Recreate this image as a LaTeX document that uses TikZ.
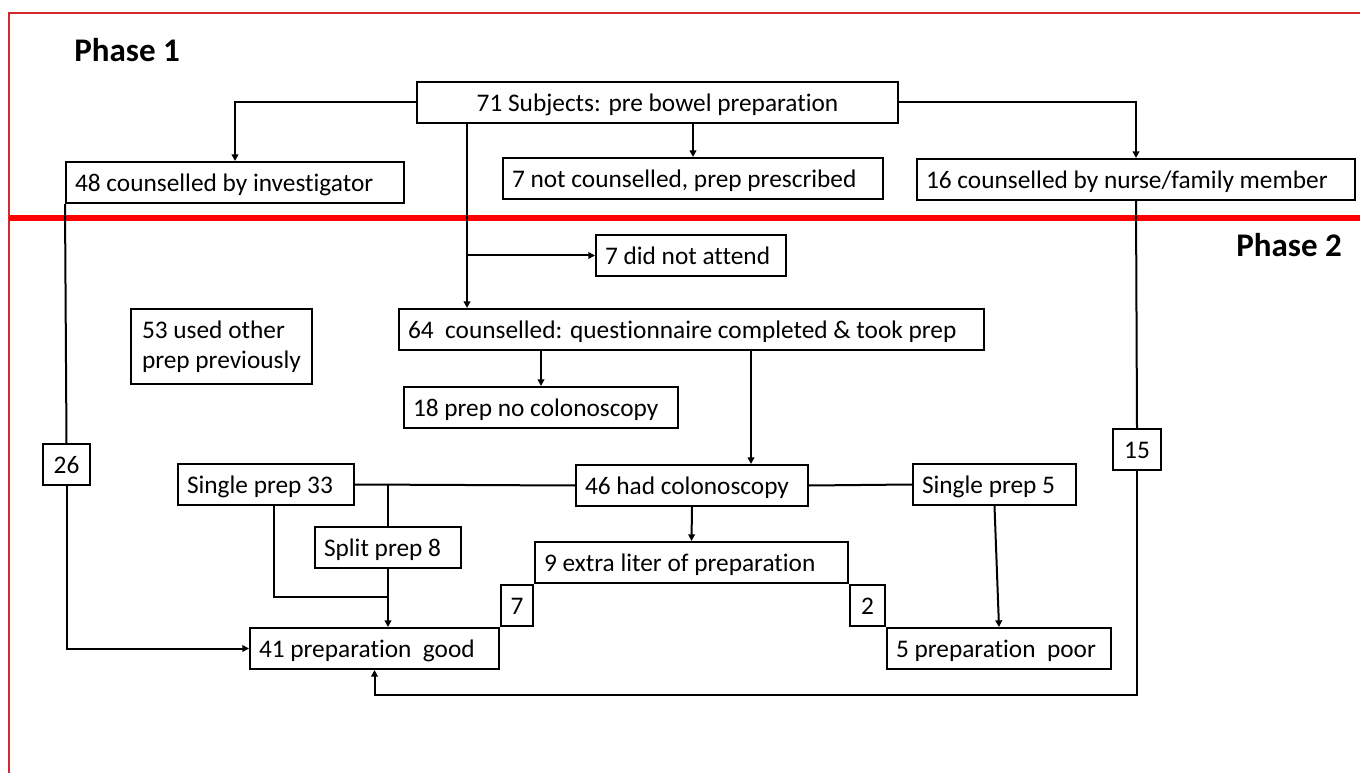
\documentclass[tikz,border=0pt]{standalone}
\usepackage{fontspec}
\setmainfont[RawFeature={-liga;-clig;-calt}]{Carlito}
\usetikzlibrary{arrows.meta, positioning, calc}
\definecolor{framered}{RGB}{210,40,50}
\tikzstyle{arrow} = [line width=1.5pt, -{Triangle[length=5pt, width=5pt]}]
\tikzstyle{link} = [line width=1.5pt]

\begin{document}
\begin{tikzpicture}[x=0.75pt, y=-0.75pt,
    every node/.style={font=\fontsize{19}{22.5}\selectfont},
    stage/.style={rectangle, draw, line width=1.5pt, anchor=north west, align=flush left, inner xsep=6.75pt, inner ysep=0pt, minimum height=30.75pt, text height=17pt, text depth=3.5pt},
    note/.style={rectangle, draw, line width=1.5pt, anchor=north west, align=flush left, inner xsep=8.25pt, minimum height=56.25pt},
    count/.style={rectangle, draw, line width=1.5pt, align=center, inner sep=2pt, minimum height=30.75pt, text height=17pt, text depth=3.5pt},
    phase/.style={font=\fontsize{24.75}{30}\selectfont\bfseries, anchor=base west, inner sep=0pt}
  ]
    \useasboundingbox (0,0) rectangle (1360,773);

    % Frame and phase divider
    \draw[framered, line width=1.1pt] (9,773) -- (9,13) -- (1360,13);
    \draw[red, line width=4.5pt] (9,218) -- (1360,218);
    \node[phase] (ph1) at (74,62) {Phase 1};
    \node[phase] (ph2) at (1236,257) {Phase 2};

    % Phase 1 nodes
    \node[count, anchor=north west, minimum width=360.75pt] (subj) at (416,81) {71 Subjects: pre bowel preparation};
    \node[stage, text width=240pt]   (inv)    at (65,161)  {48 counselled by investigator};
    \node[stage, text width=271.5pt] (nocoun) at (502,157) {7 not counselled, prep prescribed};
    \node[stage, text width=315pt]   (nurse)  at (916,158) {16 counselled by nurse/family member};

    % Phase 2 nodes
    \node[stage, text width=129pt]    (absent)  at (595,234) {7 did not attend};
    \node[stage, text width=425.25pt] (quest)   at (398,308) {64\ \ counselled: questionnaire completed \& took prep};
    \node[note]                       (other)   at (130,308) {53 used other\\prep previously};
    \node[stage, text width=192pt]    (noscope) at (403,386) {18 prep no colonoscopy};
    \node[count, anchor=north west, minimum width=35.25pt] (n26) at (42,443) {26};
    \node[count, anchor=north west, minimum width=36pt]    (n15) at (1112,428) {15};
    \node[stage, text width=160.5pt]  (scope)    at (575,464) {46 had colonoscopy};
    \node[stage, text width=118.5pt]  (single33) at (177,463) {Single prep 33};
    \node[stage, text width=108.75pt] (single5)  at (912,463) {Single prep 5};
    \node[stage, text width=96pt]     (split8)   at (314,526) {Split prep 8};
    \node[stage, text width=221.25pt] (extra)    at (534,541) {9 extra liter of preparation};
    \node[count, anchor=north east, minimum width=24pt]    (n7) at (extra.south west) {7};
    \node[count, anchor=north west, minimum width=26.25pt] (n2) at (extra.south east) {2};
    \node[stage, anchor=north east, text width=173.25pt] (good) at (n7.south west) {41 preparation\ \ good};
    \node[stage, text width=154.5pt] (poor) at (n2.south east) {5 preparation\ \ poor};

    % Phase 1 arrows
    \draw[arrow] (subj.west) -| (inv.north);
    \draw[arrow] (subj.east) -| (nurse.north);
    \draw[arrow] (nocoun.north |- subj.south) -- (nocoun.north);

    % Counselled branch
    \coordinate (tap) at ($(subj.south west)+(51,0)$);
    \draw[arrow] (tap) -- (tap |- quest.north);
    \draw[arrow] (tap |- absent.west) -- (absent.west);
    \draw[arrow] (noscope.north |- quest.south) -- (noscope.north);
    \coordinate (drop) at ($(quest.south west)+(353,0)$);
    \draw[arrow] (drop) -- (drop |- scope.north);

    % Colonoscopy split
    \draw[link] (single33.east) -- (scope.west);
    \draw[link] (scope.east) -- (single5.west);
    \draw[link] (split8.north |- single33.east) -- (split8.north);
    \coordinate (join) at (274,597);
    \draw[link] (join |- single33.south) |- (split8.south |- join);
    \draw[arrow] (split8.south) -- (split8.south |- good.north);
    \draw[arrow] (scope.south) -- (extra.north);
    \draw[arrow] (single5.south) -- (poor.north);

    % Outer routes
    \draw[link] (inv.south west) -- (n26.north);
    \draw[arrow] (n26.south) |- (good.west);
    \draw[link] (nurse.south) -- (n15.north);
    \draw[arrow] (n15.south) |- ($(good.south)+(0,25)$) -- (good.south);
\end{tikzpicture}
\end{document}
